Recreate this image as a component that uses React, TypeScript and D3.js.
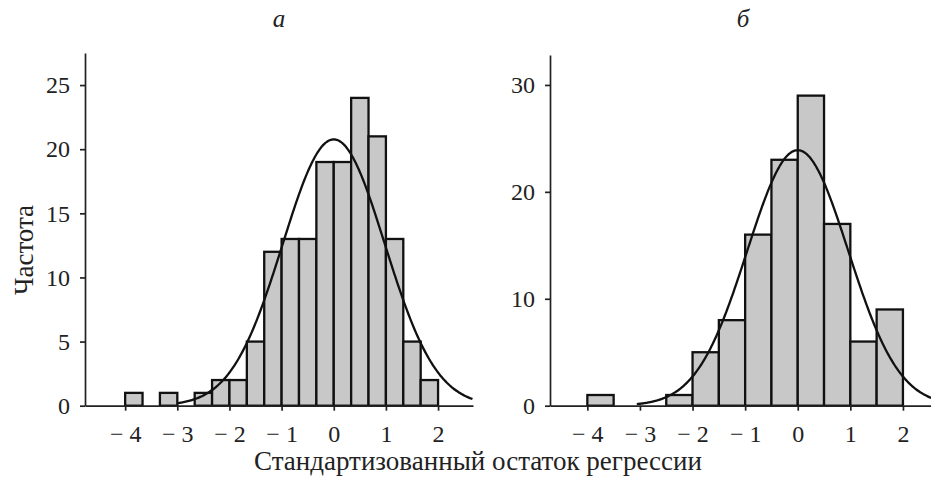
import React, { useEffect, useRef } from 'react';
import * as d3 from 'd3';

// panel a: bins of width 1/3 starting at -4
const binStartA = -4;
const binWidthA = 1 / 3;
const countsA = [1, 0, 1, 0, 1, 2, 2, 5, 12, 13, 13, 19, 19, 24, 21, 13, 5, 2];
const yTicksA = [0, 5, 10, 15, 20, 25];

// panel б: bins of width 0.5 starting at -4
const binStartB = -4;
const binWidthB = 0.5;
const countsB = [1, 0, 0, 1, 5, 8, 16, 23, 29, 17, 6, 9];
const yTicksB = [0, 10, 20, 30];

const xTicks = [-4, -3, -2, -1, 0, 1, 2];

// fitted normal curves (mean, sd)
const normalA = { mean: 0, sd: 0.98 };
const normalB = { mean: 0, sd: 0.96 };

const titles = ['a', 'б'];
const xLabel = 'Стандартизованный остаток регрессии';
const yLabel = 'Частота';

const W = 931;
const H = 485;
const FONT = '"Liberation Serif", "Times New Roman", serif';

type PanelCfg = {
  counts: number[];
  binStart: number;
  binWidth: number;
  yTicks: number[];
  normal: { mean: number; sd: number };
  xDom: [number, number];
  xRange: [number, number];
  yMax: number;
  topY: number;
  curveDom: [number, number];
  title: string;
  titleX: number;
};

function drawPanel(svg: d3.Selection<SVGSVGElement, unknown, null, undefined>, cfg: PanelCfg) {
  const baseY = 405.7;

  const x = d3.scaleLinear().domain(cfg.xDom).range(cfg.xRange);
  const y = d3.scaleLinear().domain([0, cfg.yMax]).range([baseY, cfg.topY]);

  const g = svg.append('g');

  const bins = cfg.counts
    .map((c, i) => ({ x0: cfg.binStart + i * cfg.binWidth, x1: cfg.binStart + (i + 1) * cfg.binWidth, c }))
    .filter((d) => d.c > 0);

  g.selectAll('rect.bar')
    .data(bins)
    .enter()
    .append('rect')
    .attr('class', 'bar')
    .attr('x', (d) => x(d.x0))
    .attr('y', (d) => y(d.c))
    .attr('width', (d) => x(d.x1) - x(d.x0))
    .attr('height', (d) => y(0) - y(d.c))
    .attr('fill', '#c8c8c8')
    .attr('stroke', '#111')
    .attr('stroke-width', 2.3);

  // normal curve scaled to counts
  const n = d3.sum(cfg.counts);
  const { mean, sd } = cfg.normal;
  const dens = (v: number) =>
    (n * cfg.binWidth) / (sd * Math.sqrt(2 * Math.PI)) * Math.exp(-((v - mean) ** 2) / (2 * sd * sd));
  const pts = d3.range(cfg.curveDom[0], cfg.curveDom[1] + 0.001, 0.02);

  const line = d3
    .line<number>()
    .x((v) => x(v))
    .y((v) => y(dens(v)))
    .curve(d3.curveMonotoneX);

  g.append('path')
    .datum(pts)
    .attr('d', line)
    .attr('fill', 'none')
    .attr('stroke', '#111')
    .attr('stroke-width', 2.3);

  const fmt = (v: number) => (v < 0 ? '\u2212 ' + Math.abs(v) : String(v));

  const xAxis = d3.axisBottom(x).tickValues(xTicks).tickFormat((v) => fmt(+v)).tickSize(5).tickPadding(14).tickSizeOuter(0);
  const yAxis = d3.axisLeft(y).tickValues(cfg.yTicks).tickFormat((v) => String(v)).tickSize(5).tickPadding(10).tickSizeOuter(0);

  const gx = g.append('g').attr('transform', `translate(0,${baseY})`).call(xAxis);
  const gy = g.append('g').attr('transform', `translate(${cfg.xRange[0]},0)`).call(yAxis);

  [gx, gy].forEach((ax) => {
    ax.attr('font-family', FONT).attr('font-size', 24);
    ax.select('.domain').attr('stroke', '#222').attr('stroke-width', 1.7);
    ax.selectAll('.tick line').attr('stroke', '#222').attr('stroke-width', 1.7);
    ax.selectAll('.tick text').attr('fill', '#222').attr('font-family', FONT).attr('font-size', 24);
  });

  svg.append('text')
    .attr('x', cfg.titleX)
    .attr('y', 27)
    .attr('text-anchor', 'middle')
    .attr('font-family', FONT)
    .attr('font-style', 'italic')
    .attr('font-size', 25)
    .attr('fill', '#222')
    .text(cfg.title);
}

export default function App() {
  const ref = useRef<SVGSVGElement>(null);

  useEffect(() => {
    const svg = d3.select(ref.current as SVGSVGElement);
    svg.selectAll('*').remove();

    drawPanel(svg, {
      counts: countsA,
      binStart: binStartA,
      binWidth: binWidthA,
      yTicks: yTicksA,
      normal: normalA,
      xDom: [-4.77, 2.67],
      xRange: [85, 473],
      yMax: 27.5,
      topY: 53,
      curveDom: [-3.0, 2.66],
      title: titles[0],
      titleX: 279,
    });

    drawPanel(svg, {
      counts: countsB,
      binStart: binStartB,
      binWidth: binWidthB,
      yTicks: yTicksB,
      normal: normalB,
      xDom: [-4.71, 2.6],
      xRange: [550, 934.5],
      yMax: 32.8,
      topY: 55,
      curveDom: [-3.06, 2.6],
      title: titles[1],
      titleX: 743,
    });

    svg.append('text')
      .attr('x', 478)
      .attr('y', 470)
      .attr('text-anchor', 'middle')
      .attr('font-family', FONT)
      .attr('font-size', 27)
      .attr('fill', '#222')
      .text(xLabel);

    svg.append('text')
      .attr('transform', 'translate(33,250) rotate(-90)')
      .attr('text-anchor', 'middle')
      .attr('font-family', FONT)
      .attr('font-size', 27)
      .attr('fill', '#222')
      .text(yLabel);
  }, []);

  return (
    <svg
      ref={ref}
      width={W}
      height={H}
      style={{ position: 'absolute', left: 0, top: 0, background: '#fff' }}
    />
  );
}
